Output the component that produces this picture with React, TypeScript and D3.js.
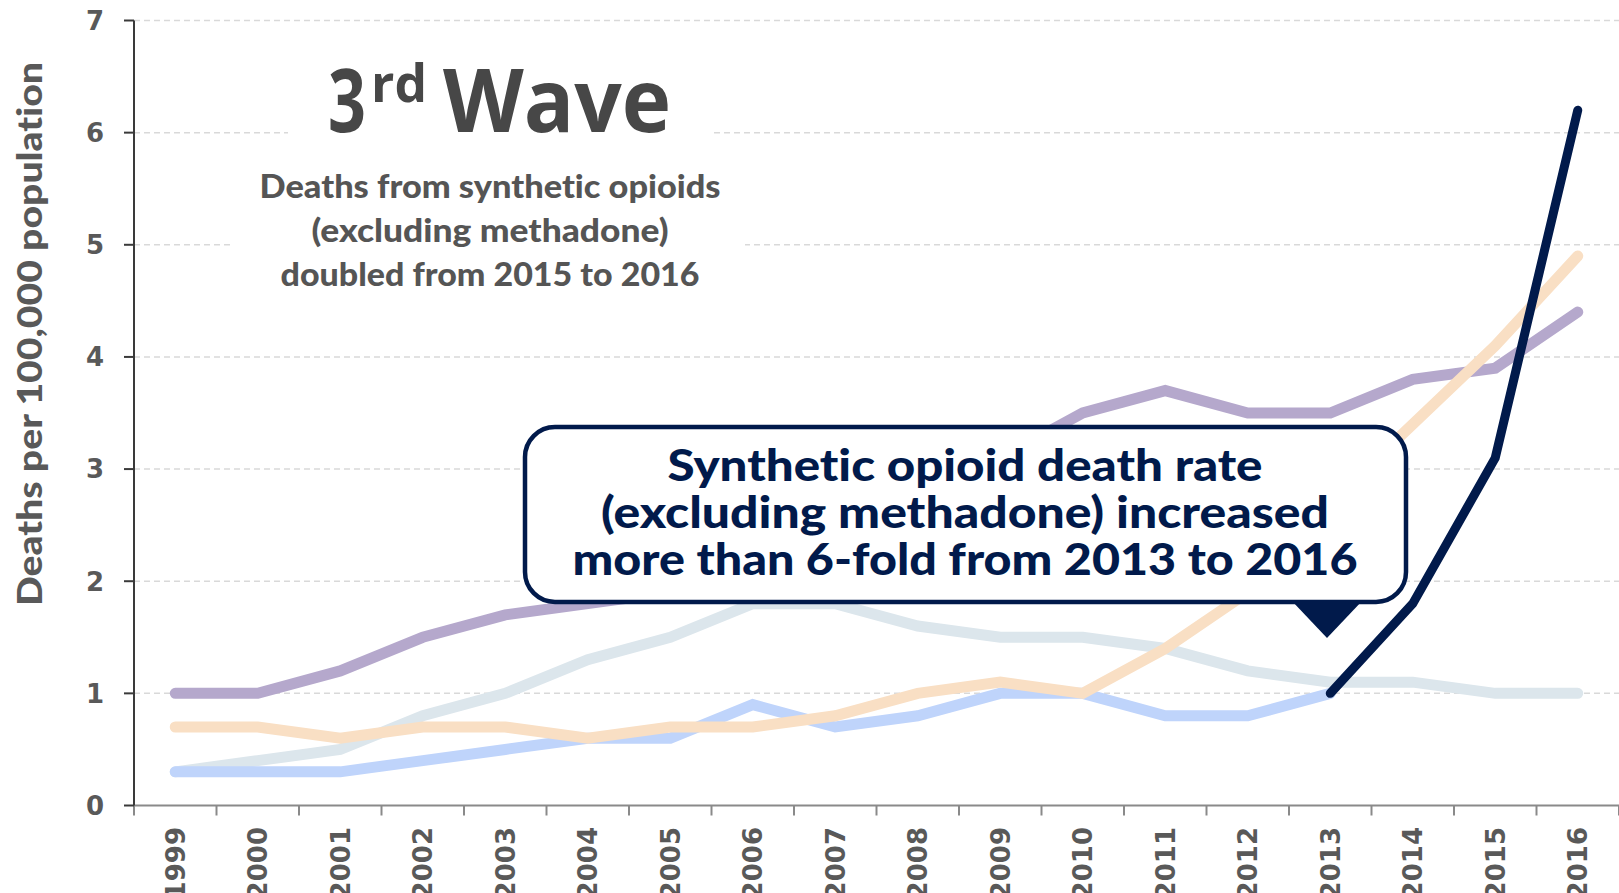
import React from 'react';
import * as d3 from 'd3';

const years = ['1999','2000','2001','2002','2003','2004','2005','2006','2007','2008','2009','2010','2011','2012','2013','2014','2015','2016'];
const yTicks = [0, 1, 2, 3, 4, 5, 6, 7];
const gridTicks = [1, 2, 3, 4, 5, 6, 7];

// Methadone
const methadone = [0.3, 0.4, 0.5, 0.8, 1.0, 1.3, 1.5, 1.8, 1.8, 1.6, 1.5, 1.5, 1.4, 1.2, 1.1, 1.1, 1.0, 1.0];
// Synthetic opioids other than methadone, 1999-2013
const syntheticEarly = [0.3, 0.3, 0.3, 0.4, 0.5, 0.6, 0.6, 0.9, 0.7, 0.8, 1.0, 1.0, 0.8, 0.8, 1.0];
// Synthetic opioids other than methadone, 2013-2016 (highlighted)
const syntheticLateYears = ['2013', '2014', '2015', '2016'];
const syntheticLate = [1.0, 1.8, 3.1, 6.2];
// Natural and semi-synthetic opioids
const natural = [1.0, 1.0, 1.2, 1.5, 1.7, 1.8, 1.9, 2.3, 2.6, 2.9, 3.1, 3.5, 3.7, 3.5, 3.5, 3.8, 3.9, 4.4];
// Heroin
const heroin = [0.7, 0.7, 0.6, 0.7, 0.7, 0.6, 0.7, 0.7, 0.8, 1.0, 1.1, 1.0, 1.4, 1.9, 2.7, 3.4, 4.1, 4.9];

const calloutLines = [
  'Synthetic opioid death rate',
  '(excluding methadone) increased',
  'more than 6-fold from 2013 to 2016',
];
const subtitleLines = [
  'Deaths from synthetic opioids',
  '(excluding methadone)',
  'doubled from 2015 to 2016',
];

const W = 1619;
const H = 893;
const NAVY = '#011a4b';
const TXT = '#595959';

export default function App() {
  const x = d3.scaleBand<string>().domain(years).range([134, 1619]).padding(0);
  const y = d3.scaleLinear().domain([0, 7]).range([805.5, 20.5]);
  const cx = (yr: string) => (x(yr) as number) + x.bandwidth() / 2;

  const lineGen = (yrs: string[]) =>
    d3
      .line<number>()
      .x((_, i) => cx(yrs[i]))
      .y((d) => y(d));

  const series = [
    { data: methadone, yrs: years, color: '#dce6ec', w: 11 },
    { data: syntheticEarly, yrs: years.slice(0, syntheticEarly.length), color: '#bfd4fb', w: 11 },
    { data: natural, yrs: years, color: '#b5a8cc', w: 11 },
    { data: heroin, yrs: years, color: '#f9dfc4', w: 11 },
    { data: syntheticLate, yrs: syntheticLateYears, color: NAVY, w: 9 },
  ];

  const boundaries = d3.range(years.length + 1).map((i) => 134 + i * x.bandwidth());

  return (
    <svg
      width={W}
      height={H}
      style={{ position: 'absolute', left: 0, top: 0, display: 'block', background: '#fff', fontVariantLigatures: 'none' }}
    >
      <rect x={0} y={0} width={W} height={H} fill="#fff" />
      {/* grid */}
      {gridTicks.map((t) => (
        <line
          key={'g' + t}
          x1={134}
          x2={1619}
          y1={y(t)}
          y2={y(t)}
          stroke="#d9d9d9"
          strokeWidth={1.5}
          strokeDasharray="6,4"
        />
      ))}

      {/* title backgrounds */}
      <rect x={288} y={38} width={422} height={112} fill="#fff" />
      <rect x={232} y={150} width={513} height={150} fill="#fff" />

      {/* title */}
      <g fill="#474747" fontFamily="'Open Sans', sans-serif" fontWeight={700}>
        <text x={328} y={132} fontSize={88} textLength={38} lengthAdjust="spacingAndGlyphs">3</text>
        <text x={371} y={102} fontSize={52} textLength={56} lengthAdjust="spacingAndGlyphs">rd</text>
        <text x={443} y={132} fontSize={88} textLength={228} lengthAdjust="spacingAndGlyphs">Wave</text>
      </g>
      <g fill="#555" fontFamily="Lato, sans-serif" fontWeight={900} fontSize={32} textAnchor="middle">
        {subtitleLines.map((s, i) => (
          <text
            key={s}
            x={490}
            y={198 + i * 44}
            textLength={[461, 357, 419][i]}
            lengthAdjust="spacingAndGlyphs"
          >
            {s}
          </text>
        ))}
      </g>

      {/* axes */}
      <line x1={134} x2={1619} y1={y(0)} y2={y(0)} stroke="#8a8a8a" strokeWidth={2} />
      {boundaries.map((b, i) => (
        <line key={'xt' + i} x1={b} x2={b} y1={y(0)} y2={y(0) + 10} stroke="#8a8a8a" strokeWidth={2} />
      ))}
      <line x1={134} x2={134} y1={y(7)} y2={y(0)} stroke="#3a3a3a" strokeWidth={2} />
      {yTicks.map((t) => (
        <g key={'yt' + t}>
          <line x1={124} x2={134} y1={y(t)} y2={y(t)} stroke="#3a3a3a" strokeWidth={2} />
          <text
            x={104}
            y={y(t)}
            dy="0.36em"
            textAnchor="end"
            fontFamily="'DejaVu Sans', Verdana, sans-serif"
            fontWeight={700}
            fontSize={26}
            fill={TXT}
          >
            {t}
          </text>
        </g>
      ))}
      {years.map((yr) => (
        <text
          key={'xl' + yr}
          transform={`translate(${cx(yr) + 9.5},${827}) rotate(-90)`}
          textAnchor="end"
          fontFamily="'DejaVu Sans', Verdana, sans-serif"
          fontWeight={700}
          fontSize={26}
          fill={TXT}
        >
          {yr}
        </text>
      ))}
      <text
        transform="translate(42,334) rotate(-90)"
        textAnchor="middle"
        fontFamily="Lato, sans-serif"
        fontWeight={900}
        fontSize={34}
        fill={TXT}
        textLength={544}
        lengthAdjust="spacingAndGlyphs"
      >
        Deaths per 100,000 population
      </text>

      {/* lines */}
      {series.map((s, i) => (
        <path
          key={'s' + i}
          d={lineGen(s.yrs)(s.data) || ''}
          fill="none"
          stroke={s.color}
          strokeWidth={s.w}
          strokeLinecap="round"
          strokeLinejoin="miter"
        />
      ))}

      {/* callout */}
      <rect x={525} y={427} width={881} height={175} rx={30} ry={30} fill="#fff" stroke={NAVY} strokeWidth={4.5} />
      <path d="M1291,600 L1363,600 L1327,638 Z" fill={NAVY} />
      <g fill={NAVY} fontFamily="Lato, sans-serif" fontWeight={900} fontSize={43} textAnchor="middle">
        {calloutLines.map((s, i) => (
          <text
            key={s}
            x={965}
            y={481 + i * 47}
            textLength={[595, 728, 785][i]}
            lengthAdjust="spacingAndGlyphs"
          >
            {s}
          </text>
        ))}
      </g>
    </svg>
  );
}
